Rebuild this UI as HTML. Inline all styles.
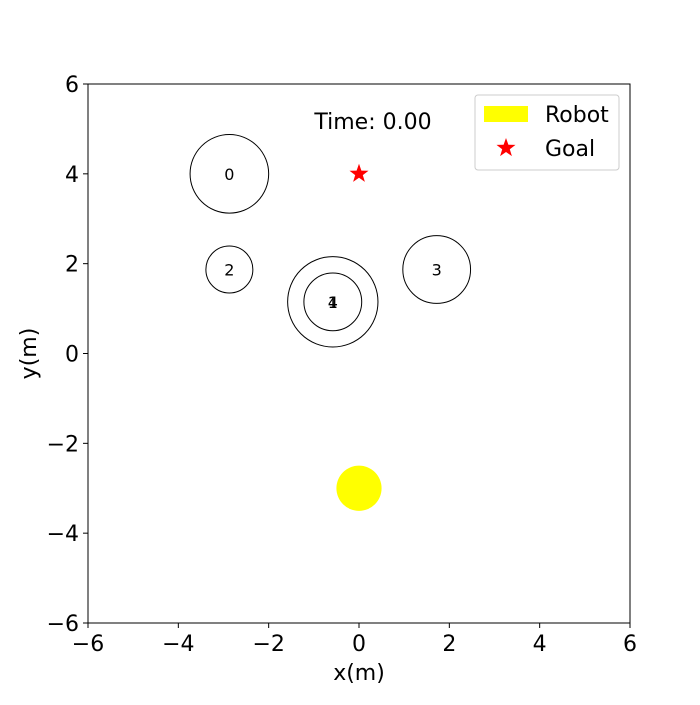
<!DOCTYPE html>
<html><head><meta charset="utf-8"><style>
body{margin:0;background:#fff;}
svg text{font-family:"DejaVu Sans","Liberation Sans",sans-serif;}
</style></head><body>
<svg id="chart" width="700" height="700"></svg>
<script>
const xTicks=[-6,-4,-2,0,2,4,6];
const yTicks=[-6,-4,-2,0,2,4,6];
const obsLabels=["0","1","2","3","4"];
const obsX=[-2.87,-0.58,-2.87,1.72,-0.58];
const obsY=[4.0,1.15,1.87,1.87,1.15];
const obsR=[0.87,1.0,0.52,0.75,0.64];
const robot=[0,-3,0.5];
const goal=[0,4];
const L=88,R=630,T=84,B=623;
const sx=v=>L+(v+6)/12*(R-L);
const sy=v=>B-(v+6)/12*(B-T);
const s=document.getElementById('chart');
const NS='http://www.w3.org/2000/svg';
function mk(t,a,p){const e=document.createElementNS(NS,t);for(const k in a)e.setAttribute(k,a[k]);(p||s).appendChild(e);return e;}
let e=mk('rect',{x:L,y:T,width:R-L,height:B-T,fill:'none',stroke:'#000','stroke-width':1});


xTicks.forEach(v=>{
 let l=mk('line',{x1:sx(v),x2:sx(v),y1:B,y2:B+5,stroke:'#000'});
 
 
 let t=mk('text',{x:sx(v),y:B+28,'text-anchor':'middle','font-size':22});
 t.textContent=(v<0?'\u2212':'')+Math.abs(v);
 
 
});
yTicks.forEach(v=>{
 let l=mk('line',{x1:L-5,x2:L,y1:sy(v),y2:sy(v),stroke:'#000'});
 
 
 let t=mk('text',{x:L-9,y:sy(v)+8,'text-anchor':'end','font-size':22});
 t.textContent=(v<0?'\u2212':'')+Math.abs(v);
 
 
});
let xt=mk('text',{x:(L+R)/2,y:680,'text-anchor':'middle','font-size':22});xt.textContent='x(m)';


let yt=mk('text',{x:36,y:(T+B)/2,'text-anchor':'middle','font-size':22,transform:`rotate(-90 36 ${(T+B)/2})`});yt.textContent='y(m)';


const kx=(R-L)/12;
obsX.forEach((x,i)=>{
 let c=mk('circle',{cx:sx(x),cy:sy(obsY[i]),r:obsR[i]*kx,fill:'none',stroke:'#000','stroke-width':1});
 
 
 let t=mk('text',{x:sx(x),y:sy(obsY[i])+6,'text-anchor':'middle','font-size':16});t.textContent=obsLabels[i];
 
 
});
let rb=mk('circle',{cx:sx(robot[0]),cy:sy(robot[1]),r:robot[2]*kx,fill:'#ffff00'});


function star(cx,cy,ro,ri){let p=[];for(let i=0;i<10;i++){const a=-Math.PI/2+i*Math.PI/5,r=i%2?ri:ro;p.push((cx+r*Math.cos(a)).toFixed(1)+','+(cy+r*Math.sin(a)).toFixed(1));}return p.join(' ');}
let g=mk('polygon',{points:star(sx(goal[0]),sy(goal[1]),10,4),fill:'#ff0000'});


let tm=mk('text',{x:373,y:129,'text-anchor':'middle','font-size':22});tm.textContent='Time: 0.00';


let lg=mk('rect',{x:475,y:95,width:144,height:75,rx:3,fill:'#fff',stroke:'#ccc'});


let lr=mk('rect',{x:484,y:106,width:44,height:16,fill:'#ffff00'});


let lt=mk('text',{x:545,y:122,'font-size':22});lt.textContent='Robot';


let ls=mk('polygon',{points:star(506,148,10,4),fill:'#ff0000'});


let lt2=mk('text',{x:545,y:156,'font-size':22});lt2.textContent='Goal';


</script>
</body></html>
